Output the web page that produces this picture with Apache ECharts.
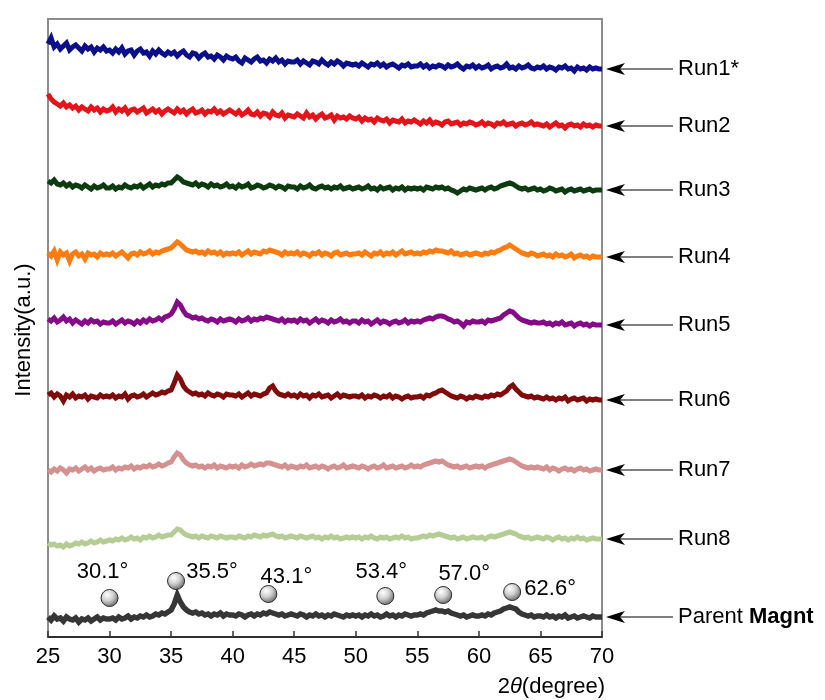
<!DOCTYPE html>
<html>
<head>
<meta charset="utf-8">
<script src="https://cdn.jsdelivr.net/npm/echarts@6/dist/echarts.min.js"></script>
<style>html,body{margin:0;padding:0;background:#fff}#c{width:825px;height:700px}</style>
</head>
<body>
<div id="c"></div>
<script>
// 2θ sampling grid: 25° .. 70° in 0.25° steps
const xStart = 25, xStep = 0.25;
const xTicks = [25, 30, 35, 40, 45, 50, 55, 60, 65, 70];

const seriesNames = ['Run1*', 'Run2', 'Run3', 'Run4', 'Run5', 'Run6', 'Run7', 'Run8', 'Parent Magnt'];
const seriesColors = ['#0b108a', '#e4141b', '#0d3b10', '#fb7d12', '#850a87', '#7f0b0b', '#d4918f', '#b5cc95', '#363636'];
// vertical stacking offsets (a.u.)
const offsets = [568, 511, 447, 380, 312, 237, 167, 98, 20];

const run1 = [
25,31,22,25,20,23,26,19,22,24,21,18,23,20,22,17,21,19,22,18,
19,16,20,17,21,15,18,19,14,18,20,16,17,13,18,15,19,16,14,17,
15,17,13,16,18,14,12,16,15,11,14,16,12,13,10,14,12,9,13,11,
10,12,8,6,11,9,7,10,12,8,9,6,10,8,11,7,9,5,8,7,
7,9,5,8,6,4,8,7,5,9,6,4,7,5,8,6,3,6,5,4,
5,3,6,4,2,5,4,6,3,5,2,4,5,3,1,4,3,5,2,3,
3,5,2,4,1,3,2,4,3,1,4,2,3,5,2,0,3,2,4,1,
3,1,2,4,0,2,3,1,2,5,1,2,0,3,1,2,4,1,0,2,
1,3,0,2,1,-1,2,1,3,0,1,-2,2,0,1,-1,2,0,1,0,
0];
const run2 = [
32,27,24,22,20,23,19,21,18,20,16,19,17,15,19,16,18,14,17,15,
16,19,14,17,15,18,13,16,17,14,16,18,13,15,17,14,16,12,15,17,
15,13,17,14,16,12,15,17,13,14,16,12,15,14,17,13,15,12,14,16,
14,12,15,11,13,16,12,11,14,10,13,12,9,14,11,10,13,8,11,10,
9,12,10,8,13,9,11,7,10,12,8,9,11,6,10,8,9,7,10,8,
7,9,5,8,6,7,4,8,6,5,7,3,6,5,4,7,3,5,4,6,
4,2,5,3,6,2,4,3,1,4,5,2,3,4,1,3,2,4,3,1,
2,4,1,3,2,0,3,2,4,1,2,3,0,2,3,1,2,4,1,2,
1,0,2,-1,1,3,0,1,-2,1,2,0,1,-1,2,0,1,-1,1,0,
0];
const run3 = [
9,7,10,6,5,7,4,6,3,5,4,2,5,3,1,4,2,3,5,2,
2,4,1,3,2,5,3,2,4,3,5,2,4,6,3,5,4,6,5,7,
7,10,13,11,8,7,6,5,7,4,6,5,3,6,4,5,3,4,6,3,
4,2,5,3,4,6,2,3,5,4,2,3,5,4,2,4,3,1,4,3,
3,1,4,2,3,5,2,1,3,4,2,3,1,3,2,4,1,2,3,1,
2,3,1,2,4,1,2,0,3,1,2,3,0,2,1,3,0,2,1,2,
1,2,0,3,2,1,3,2,3,1,2,0,-1,-3,-1,1,0,2,1,0,
1,2,0,2,3,1,2,4,5,6,7,6,4,2,1,2,0,1,2,0,
1,-1,0,2,1,-1,0,1,-2,0,1,-1,0,1,-1,0,1,-1,0,0,
0];
const run4 = [
4,1,6,-3,5,2,4,-4,3,5,1,3,-2,4,2,3,0,4,2,3,
2,4,1,3,5,2,-1,3,4,2,5,3,4,6,3,5,4,6,7,8,
9,12,15,13,10,7,6,5,6,4,5,3,6,4,5,3,5,2,4,3,
4,3,5,2,4,6,3,5,4,3,6,5,7,6,5,4,2,5,3,4,
3,5,2,4,3,1,4,3,5,2,4,3,1,4,5,2,3,4,2,3,
3,4,2,5,3,1,4,3,5,2,4,3,5,2,4,6,3,4,5,3,
4,3,5,4,6,5,7,6,6,5,4,6,3,4,2,3,4,2,3,4,
3,2,4,3,5,4,6,7,9,10,12,10,8,6,4,3,2,4,3,1,
2,3,1,2,0,3,1,2,0,1,3,-1,1,2,0,1,-1,1,0,0,
0];
const run5 = [
6,4,7,3,5,8,4,6,2,5,3,1,4,2,5,3,4,1,3,2,
2,4,1,3,5,2,4,3,1,4,2,5,3,6,4,5,7,5,8,9,
11,16,23,20,14,10,9,7,8,6,7,5,4,6,5,3,6,4,5,6,
5,3,6,4,5,7,4,6,5,7,6,8,7,6,5,4,6,3,5,4,
5,3,6,4,5,2,4,6,3,5,4,2,5,3,4,6,3,4,2,4,
4,2,5,3,4,1,3,5,2,4,3,1,3,4,2,3,5,2,4,3,
4,3,5,6,7,6,8,9,9,8,6,5,3,4,2,-1,3,2,4,3,
3,4,2,5,4,5,6,7,10,12,14,13,10,7,5,4,3,2,3,2,
2,3,1,2,0,2,1,3,0,1,2,-1,1,2,0,1,-1,1,0,0,
0];
const run6 = [
5,7,3,6,4,-1,5,3,6,2,4,3,5,1,4,3,2,5,3,4,
3,5,2,4,3,6,1,4,5,3,4,6,3,5,7,5,6,8,7,9,
10,17,25,21,14,10,8,6,7,5,6,4,7,5,4,6,5,3,6,5,
5,4,6,3,5,7,4,6,5,4,6,7,12,14,9,6,5,4,6,4,
5,3,6,4,5,2,5,4,6,3,4,5,2,4,6,3,5,4,3,4,
4,3,5,2,4,3,5,4,2,4,3,5,2,4,3,1,3,4,2,3,
3,4,2,5,4,6,7,9,10,8,6,4,3,2,4,3,1,3,2,4,
3,2,4,3,5,4,6,5,7,9,13,15,11,8,5,4,3,4,2,3,
2,1,3,1,2,0,2,1,3,-1,1,2,0,1,2,-1,1,0,1,0,
0];
const run7 = [
0,-2,1,-1,2,0,-3,1,0,2,-1,1,3,0,2,-1,1,2,0,1,
1,3,0,2,1,3,2,4,1,3,2,4,3,5,3,4,6,4,5,7,
8,13,17,15,10,7,5,4,5,3,4,2,4,3,5,2,4,3,2,4,
3,4,2,5,3,4,6,4,5,6,5,7,7,6,5,4,3,5,2,4,
3,2,4,3,5,2,3,4,2,4,3,1,3,4,2,3,5,2,3,4,
3,2,4,3,1,3,4,2,3,5,2,3,4,2,3,4,2,3,5,3,
4,3,5,6,7,8,9,8,9,7,5,4,3,4,2,3,4,2,3,4,
3,4,2,4,5,6,7,8,9,10,11,10,8,6,4,3,2,3,2,3,
2,1,3,0,2,1,-1,1,2,0,1,-1,1,2,0,1,-1,0,1,0,
0];
const run8 = [
-4,-6,-5,-7,-6,-8,-5,-7,-6,-4,-5,-3,-5,-4,-2,-4,-3,-1,-3,-2,
-1,-2,0,-1,1,-1,0,2,0,1,-1,2,1,3,1,2,4,2,3,4,
4,7,10,9,6,4,3,2,3,1,3,2,1,3,2,1,3,2,1,2,
2,1,3,2,1,3,2,4,3,2,4,3,4,5,3,2,3,1,2,3,
2,1,3,2,1,2,3,1,2,0,2,1,3,1,2,0,1,2,1,2,
1,2,0,2,1,3,1,0,2,1,2,0,1,2,1,3,1,2,0,1,
1,2,3,2,4,3,4,5,4,3,2,1,2,0,1,2,0,1,2,1,
1,2,0,2,3,2,3,4,5,6,7,6,5,3,2,1,2,0,1,2,
1,0,2,1,-1,1,2,0,1,-1,1,0,2,0,1,-1,0,1,0,0,
0];
const parent = [
0,-3,1,-2,-1,-4,0,-2,-3,-1,-5,-2,-3,-1,-4,-2,0,-3,-1,-2,
-2,-1,-3,0,-2,-1,1,-2,0,-1,1,0,2,0,1,3,2,4,3,5,
7,13,22,15,10,7,5,4,5,3,4,2,3,1,3,2,4,1,3,2,
2,1,3,2,0,2,3,1,3,2,4,3,5,4,3,2,3,1,2,3,
2,1,3,2,0,2,1,3,1,2,0,2,1,3,2,1,0,2,1,2,
1,2,0,2,1,3,1,2,0,1,3,1,2,0,2,1,3,2,1,2,
2,3,2,4,5,6,7,6,6,5,6,4,3,2,1,2,0,1,2,1,
1,2,1,3,2,4,5,6,8,9,10,9,8,5,3,2,1,2,0,1,
1,0,2,0,1,-1,1,0,2,-1,0,1,-1,0,1,0,-1,1,0,0,
0];
const allRuns = [run1, run2, run3, run4, run5, run6, run7, run8, parent];

// peak markers (reflections of magnetite)
const peakLabels = ['30.1°', '35.5°', '43.1°', '53.4°', '57.0°', '62.6°'];
const peakX = [30.0, 35.4, 42.9, 52.4, 57.1, 62.7];
const peakY = [39, 56, 43, 41, 42, 45];

const FONT = '"Liberation Sans", Arial, Helvetica, sans-serif';
const labelOffsets = [[-7, -26], [36, -9], [18, -17], [-4, -24], [21, -21], [38, -3]];

const chart = echarts.init(document.getElementById('c'), null, {renderer: 'canvas'});

const lineSeries = allRuns.map((vals, k) => ({
  name: seriesNames[k],
  type: 'line',
  showSymbol: false,
  symbol: 'none',
  silent: true,
  data: vals.map((v, i) => [xStart + i * xStep, v + offsets[k]]),
  lineStyle: {color: seriesColors[k], width: k === 8 ? 5.5 : 5, join: 'miter', miterLimit: 3},
  z: 2
}));

const sphere = {
  type: 'radial', x: 0.38, y: 0.32, r: 0.75,
  colorStops: [
    {offset: 0, color: '#ffffff'},
    {offset: 0.45, color: '#d0d0d0'},
    {offset: 0.85, color: '#7a7a7a'},
    {offset: 1, color: '#505050'}
  ]
};

const peakSeries = {
  type: 'scatter',
  symbol: 'circle',
  symbolSize: 17,
  z: 5,
  silent: true,
  itemStyle: {color: sphere, borderColor: '#2a2a2a', borderWidth: 1, opacity: 1},
  data: peakX.map((x, i) => ({
    value: [x, peakY[i]],
    label: {
      show: true, position: 'inside', offset: labelOffsets[i],
      formatter: peakLabels[i], fontSize: 22, color: '#000', fontFamily: FONT,
      textBorderWidth: 0, opacity: 1
    }
  }))
};

chart.setOption({
  animation: false,
  backgroundColor: '#fff',
  grid: {left: 48, right: 223, top: 19, bottom: 63, containLabel: false, outerBoundsMode: 'none',
    show: true, borderColor: '#8c8c8c', borderWidth: 2, backgroundColor: 'transparent'},
  xAxis: {
    type: 'value', min: 25, max: 70, interval: 5,
    axisLine: {show: true, lineStyle: {color: '#111', width: 1.5}},
    axisTick: {show: true, inside: true, length: 6, lineStyle: {color: '#333', width: 1.5}},
    axisLabel: {fontSize: 22, color: '#000', fontFamily: FONT, margin: 9,
      formatter: v => (xTicks.indexOf(v) >= 0 ? String(v) : '')},
    splitLine: {show: false}
  },
  yAxis: {
    type: 'value', min: 0, max: 618,
    axisLine: {show: false}, axisTick: {show: false}, axisLabel: {show: false},
    splitLine: {show: false}
  },
  series: lineSeries.concat([peakSeries])
});

// right-side arrow annotations
const graphics = [];
const xRight = chart.convertToPixel({gridIndex: 0}, [70, 0])[0];
const gridRect = chart.getModel().getComponent('grid', 0).coordinateSystem.getRect();
seriesNames.forEach((name, k) => {
  const y = chart.convertToPixel({gridIndex: 0}, [70, offsets[k]])[1];
  const tip = xRight + 4;
  graphics.push({
    type: 'line', silent: true,
    shape: {x1: tip + 14, y1: y, x2: xRight + 71, y2: y},
    style: {stroke: '#000', lineWidth: 1.2}
  });
  graphics.push({
    type: 'polygon', silent: true,
    shape: {points: [[tip, y], [tip + 19, y - 6], [tip + 14, y], [tip + 19, y + 6]]},
    style: {fill: '#000'}
  });
  const isParent = k === 8;
  graphics.push({
    type: 'text', silent: true, x: xRight + 76, y: y,
    style: {
      text: isParent ? '{n|Parent }{b|Magnt}' : name,
      fontSize: 22, fontFamily: FONT, fill: '#000', verticalAlign: 'middle', align: 'left',
      rich: {n: {fontSize: 22, fontFamily: FONT, fill: '#000'}, b: {fontSize: 22, fontFamily: FONT, fontWeight: 'bold', fill: '#000'}}
    }
  });
});
// y-axis title
graphics.push({
  type: 'text', silent: true, x: gridRect.x - 24, y: gridRect.y + gridRect.height / 2 + 2,
  rotation: Math.PI / 2,
  style: {text: 'Intensity(a.u.)', fontSize: 22, fontFamily: FONT, fill: '#000', align: 'center', verticalAlign: 'middle'}
});
// x-axis title
graphics.push({
  type: 'text', silent: true, x: xRight + 3, y: 687,
  style: {
    text: '{n|2}{i|θ}{n|(degree)}', align: 'right', verticalAlign: 'middle',
    rich: {n: {fontSize: 22, fontFamily: FONT, fill: '#000'}, i: {fontSize: 22, fontFamily: FONT, fontStyle: 'italic', fill: '#000'}}
  }
});
chart.setOption({graphic: graphics});
</script>
</body>
</html>
